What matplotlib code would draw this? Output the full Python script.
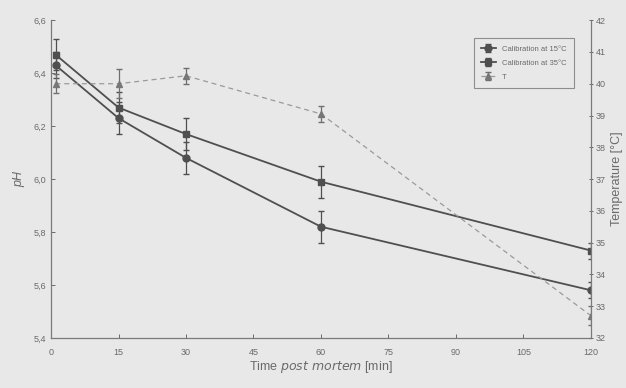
import matplotlib
matplotlib.use("Agg")
import matplotlib.pyplot as plt
from matplotlib.ticker import FuncFormatter

plt.rcParams['font.family'] = ['Liberation Sans', 'DejaVu Sans']

time = [1, 15, 30, 60, 120]
ph_15 = [6.43, 6.23, 6.08, 5.82, 5.58]
ph_15_err = [0.05, 0.06, 0.06, 0.06, 0.03]
ph_35 = [6.47, 6.27, 6.17, 5.99, 5.73]
ph_35_err = [0.06, 0.06, 0.06, 0.06, 0.03]
temp = [40.0, 40.0, 40.25, 39.05, 32.7]
temp_err = [0.3, 0.45, 0.25, 0.25, 0.3]
x_ticks = [0, 15, 30, 45, 60, 75, 90, 105, 120]
ph_ticks = [5.4, 5.6, 5.8, 6.0, 6.2, 6.4, 6.6]
temp_ticks = list(range(32, 43))

bg = '#e8e8e8'
dark = '#4f4f4f'
light = '#9a9a9a'
txt = '#6a6a6a'

fig = plt.figure(figsize=(6.26, 3.88), dpi=100, facecolor=bg)
ax = fig.add_axes([0.0815, 0.129, 0.8625, 0.819], facecolor=bg)
ax2 = ax.twinx()

l1 = ax.errorbar(time, ph_15, yerr=ph_15_err, color=dark, marker='o', ms=5,
                 lw=1.3, capsize=2.5, elinewidth=0.9, label='Calibration at 15°C')
l2 = ax.errorbar(time, ph_35, yerr=ph_35_err, color=dark, marker='s', ms=5,
                 lw=1.3, capsize=2.5, elinewidth=0.9, label='Calibration at 35°C')
l3 = ax2.errorbar(time, temp, yerr=temp_err, color=light, marker='^', ms=4,
                  lw=0.9, ls=(0, (4, 3)), capsize=2.5, elinewidth=0.9,
                  ecolor='#6f6f6f', mfc='#777777', mec='#777777', label='T')

ax.set_xlim(0, 120)
ax.set_ylim(5.4, 6.6)
ax2.set_ylim(32, 42)
ax.set_xticks(x_ticks)
ax.set_yticks(ph_ticks)
ax2.set_yticks(temp_ticks)
ax.yaxis.set_major_formatter(FuncFormatter(lambda v, p: f"{v:.1f}".replace('.', ',')))

for a in (ax, ax2):
    for s in a.spines.values():
        s.set_color('#7a7a7a')
        s.set_linewidth(0.9)
    a.spines['top'].set_visible(False)
ax.spines['right'].set_visible(False)
ax2.spines['left'].set_visible(False)
ax2.spines['bottom'].set_visible(False)

ax.tick_params(axis='both', labelsize=6.5, colors=txt, length=3, direction='in', width=0.7)
ax.tick_params(axis='x', pad=7)
ax2.tick_params(axis='y', labelsize=6.5, colors=txt, length=3, direction='inout', width=0.7, pad=2)

ax.set_ylabel('pH', fontsize=9, style='italic', color=txt, labelpad=6)
ax2.set_ylabel('Temperature [°C]', fontsize=9, color=txt, labelpad=4)
ax.set_xlabel('Time $\\it{post\\ mortem}$ [min]', fontsize=9, color=txt, labelpad=2)

leg = ax.legend(handles=[l1, l2, l3], loc='upper right', bbox_to_anchor=(0.975, 0.955),
                fontsize=5.5, frameon=True, fancybox=False, edgecolor='#777777',
                facecolor=bg, handlelength=2.0, borderpad=0.9, labelspacing=0.9)
leg.get_frame().set_linewidth(0.8)
for t in leg.get_texts():
    t.set_color(txt)

fig.savefig('out.png', dpi=100, facecolor=bg)
